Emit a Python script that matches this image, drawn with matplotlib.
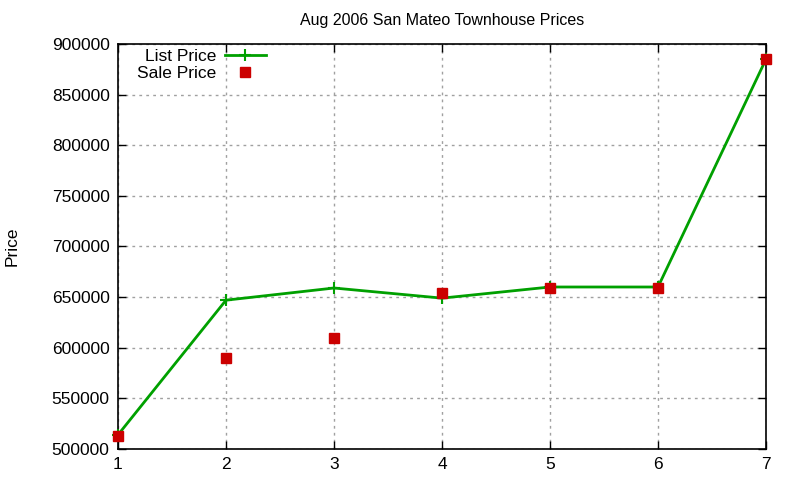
#!/usr/bin/env python3
"""Aug 2006 San Mateo townhouse list vs sale prices (gnuplot-style)."""

import matplotlib

matplotlib.use("Agg")
import matplotlib.pyplot as plt

homes = [1, 2, 3, 4, 5, 6, 7]
list_price = [514000, 647000, 659000, 649000, 660000, 660000, 885000]
sale_price = [512500, 590000, 610000, 654000, 659000, 659000, 885000]

plt.rcParams.update(
    {
        "font.family": ["Liberation Sans", "DejaVu Sans"],
        "font.size": 12.5,
    }
)

fig = plt.figure(figsize=(8.0, 4.8), dpi=100)
ax = fig.add_axes([118 / 800, 1 - 449 / 480, (766 - 118) / 800, (449 - 44) / 480])

ax.plot(
    homes,
    list_price,
    color="#00a000",
    linewidth=2,
    marker="+",
    markersize=8,
    markeredgewidth=1.5,
    label="List Price",
    zorder=3,
    clip_on=False,
)
ax.plot(
    homes,
    sale_price,
    linestyle="none",
    marker="s",
    markersize=7,
    color="#cc0000",
    label="Sale Price",
    zorder=4,
    clip_on=False,
)

ax.set_xlim(1, 7)
ax.set_ylim(500000, 900000)
ax.set_xticks(homes)
ax.set_yticks(range(500000, 900001, 50000))
ax.tick_params(direction="in", top=True, right=True, length=6, width=1, pad=6)
ax.grid(True, color="#a0a0a0", linestyle=(0, (2, 3)), linewidth=1)
for s in ax.spines.values():
    s.set_linewidth(1.2)

ax.set_title("Aug 2006 San Mateo Townhouse Prices", fontsize=11.5, pad=14)
# y label placed by hand, gnuplot puts it close to the left edge
fig.text(12 / 800, 1 - 246 / 480, "Price", rotation=90, ha="center", va="center")

ax.legend(
    loc="upper left",
    bbox_to_anchor=(0.014, 1.013),
    markerfirst=False,
    frameon=False,
    handlelength=2.4,
    handletextpad=0.45,
    labelspacing=0.1,
    borderaxespad=0.2,
)

fig.savefig("out.png", dpi=100)
